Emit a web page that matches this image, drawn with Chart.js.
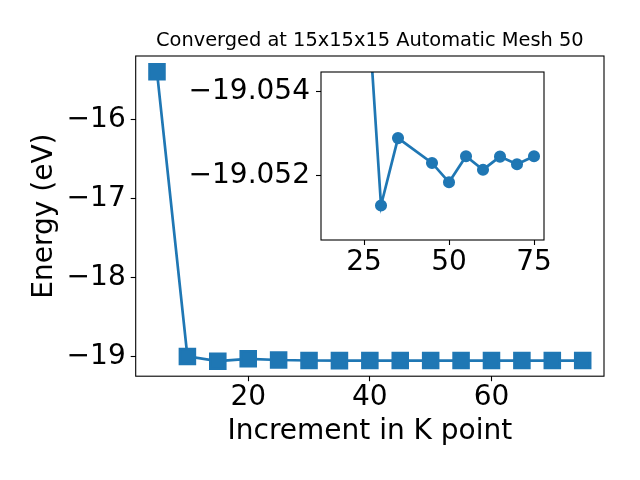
<!DOCTYPE html>
<html>
<head>
<meta charset="utf-8">
<script src="https://cdn.jsdelivr.net/npm/chart.js@4.4.0/dist/chart.umd.min.js"></script>
<style>
  body { margin: 0; background: #fff; }
  #wrap { position: relative; width: 640px; height: 480px; background: #fff; }
  #main { position: absolute; left: 0; top: 0; }
  #inset { position: absolute; left: 170px; top: 52px; }
</style>
</head>
<body>
<div id="wrap">
  <canvas id="main" width="640" height="480"></canvas>
  <canvas id="inset" width="400" height="238"></canvas>
</div>
<script>
const chartTitle = "Converged at 15x15x15 Automatic Mesh 50";
const xLabel = "Increment in K point";
const yLabel = "Energy (eV)";

// main curve
const kPoints  = [5, 10, 15, 20, 25, 30, 35, 40, 45, 50, 55, 60, 65, 70, 75];
const energies = [-15.40, -19.00, -19.06, -19.03, -19.045, -19.0513, -19.0529, -19.0525,
                  -19.0523, -19.0518, -19.0525, -19.0521, -19.0525, -19.0523, -19.0525];
const mainXTicks = [20, 40, 60];
const mainYTicks = [-19, -18, -17, -16];

// inset (zoomed) curve
const insetK        = [25, 30, 35, 45, 50, 55, 60, 65, 70, 75];
const insetEnergies = [-19.0575, -19.05129, -19.05289, -19.05230, -19.05184,
                       -19.05246, -19.05214, -19.05245, -19.05227, -19.05246];
const insetXTicks = [25, 50, 75];
const insetYTicks = [-19.054, -19.052];

const BLUE = "#1f77b4";
Chart.defaults.font.family = "'DejaVu Sans', sans-serif";
Chart.defaults.color = "#000";

const minus = s => s.replace("-", "\u2212");
const setTicks = arr => scale => { scale.ticks = arr.map(v => ({ value: v })); };

const framePlugin = {
  id: "frame",
  beforeDatasetsDraw(chart, args, opts) {
    const a = chart.chartArea, ctx = chart.ctx;
    if (opts.fill) {
      ctx.save();
      ctx.fillStyle = opts.fill;
      ctx.fillRect(a.left, a.top, a.right - a.left, a.bottom - a.top);
      ctx.restore();
    }
  },
  afterDatasetsDraw(chart) {
    const a = chart.chartArea, ctx = chart.ctx;
    ctx.save();
    ctx.strokeStyle = "#000";
    ctx.lineWidth = 1.1;
    ctx.strokeRect(a.left, a.top, a.right - a.left, a.bottom - a.top);
    ctx.restore();
  },
  afterDraw(chart, args, opts) {
    if (!opts.title) return;
    const a = chart.chartArea, ctx = chart.ctx;
    ctx.save();
    ctx.font = "19.4px 'DejaVu Sans'";
    ctx.fillStyle = "#000";
    ctx.textAlign = "center";
    ctx.textBaseline = "alphabetic";
    ctx.fillText(opts.title, (a.left + a.right) / 2, a.top - 10);
    ctx.restore();
  }
};

const tickGrid = { drawOnChartArea: false, drawTicks: true, tickLength: 5, color: "#000", tickWidth: 1.1 };

new Chart(document.getElementById("main"), {
  type: "line",
  data: {
    datasets: [{
      data: kPoints.map((k, i) => ({ x: k, y: energies[i] })),
      borderColor: BLUE,
      backgroundColor: BLUE,
      borderWidth: 2.7,
      pointStyle: "rect",
      pointRadius: 10.5,
      pointBackgroundColor: BLUE,
      pointBorderColor: BLUE,
      tension: 0
    }]
  },
  options: {
    responsive: false,
    animation: false,
    layout: { padding: { left: 28, top: 56, right: 36, bottom: 31 } },
    plugins: {
      legend: { display: false },
      tooltip: { enabled: false },
      frame: { title: chartTitle }
    },
    scales: {
      x: {
        type: "linear",
        min: 1.5, max: 78.5,
        afterBuildTicks: setTicks(mainXTicks),
        afterFit: s => { s.height = 72.8; },
        grid: tickGrid,
        border: { display: false },
        ticks: { font: { size: 28, lineHeight: 1 }, padding: 3, maxRotation: 0 },
        title: { display: true, text: xLabel, font: { size: 28, lineHeight: 1.2 }, padding: 0 }
      },
      y: {
        type: "linear",
        min: -19.25, max: -15.2,
        afterBuildTicks: setTicks(mainYTicks),
        afterFit: s => { s.width = 107.7; },
        grid: tickGrid,
        border: { display: false },
        ticks: { font: { size: 28, lineHeight: 1 }, padding: 5, callback: v => minus(String(v)) },
        title: { display: true, text: yLabel, font: { size: 28, lineHeight: 1.2 }, padding: 0 }
      }
    }
  },
  plugins: [framePlugin]
});

new Chart(document.getElementById("inset"), {
  type: "line",
  data: {
    datasets: [{
      data: insetK.map((k, i) => ({ x: k, y: insetEnergies[i] })),
      borderColor: BLUE,
      backgroundColor: BLUE,
      borderWidth: 2.7,
      pointStyle: "circle",
      pointRadius: 4.7,
      pointBackgroundColor: BLUE,
      pointBorderColor: BLUE,
      tension: 0
    }]
  },
  options: {
    responsive: false,
    animation: false,
    layout: { padding: { left: 0, top: 0, right: 26, bottom: 0 } },
    plugins: {
      legend: { display: false },
      tooltip: { enabled: false },
      frame: { fill: "#fff" }
    },
    scales: {
      x: {
        type: "linear",
        min: 12.35, max: 77.94,
        afterBuildTicks: setTicks(insetXTicks),
        afterFit: s => { s.height = 50; },
        grid: tickGrid,
        border: { display: false },
        ticks: { font: { size: 28, lineHeight: 1 }, padding: 4, maxRotation: 0 }
      },
      y: {
        type: "linear",
        reverse: true,
        min: -19.05446, max: -19.05047,
        afterBuildTicks: setTicks(insetYTicks),
        afterFit: s => { s.width = 151; },
        grid: tickGrid,
        border: { display: false },
        ticks: { font: { size: 28, lineHeight: 1 }, padding: 6, callback: v => minus(v.toFixed(3)) }
      }
    }
  },
  plugins: [framePlugin]
});
</script>
</body>
</html>
